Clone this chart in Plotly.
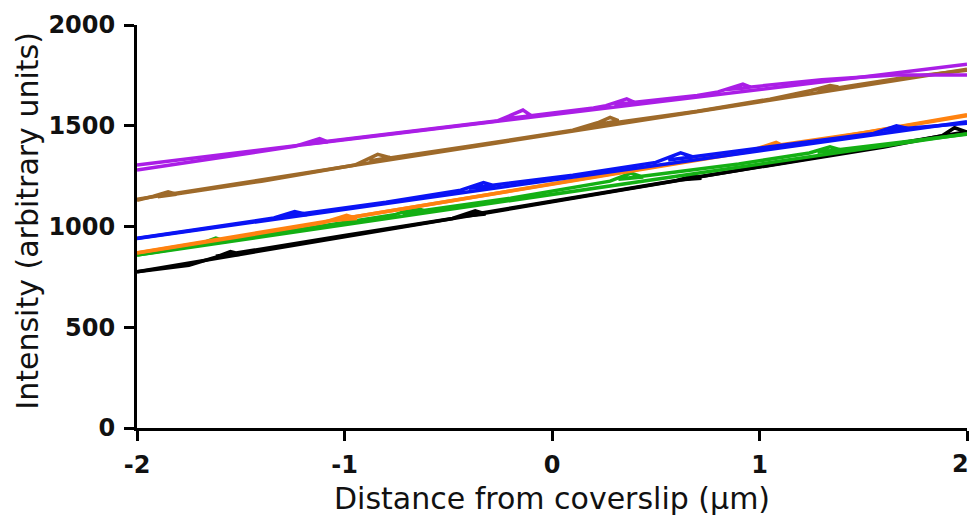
import plotly.graph_objects as go

# Tick labels
x_ticks = [-2, -1, 0, 1, 2]
x_tick_labels = ["-2", "-1", "0", "1", "2"]
y_ticks = [0, 500, 1000, 1500, 2000]
y_tick_labels = ["0", "500", "1000", "1500", "2000"]

# Linear fits, evaluated at the ends of the scan
fit_x = [-2, 2]
fit_black = [775, 1470]
fit_green = [858, 1460]
fit_orange = [870, 1550]
fit_blue = [940, 1520]
fit_brown = [1135, 1780]
fit_purple = [1305, 1805]

# Measured intensity profiles (z-stack positions, with small stage back-steps)
black_x = [-2.00, -1.75, -1.62, -1.55, -1.50, -1.62, -1.00, -0.48, -0.37, -0.32, -0.44,
           0.20, 0.60, 0.68, 0.72, 0.62, 1.20, 1.60, 1.88, 1.94, 2.00]
black_y = [776, 808, 848, 876, 862, 852, 955, 1040, 1078, 1062, 1050,
           1160, 1228, 1250, 1240, 1232, 1330, 1395, 1450, 1490, 1468]

green_x = [-2.00, -1.72, -1.62, -1.57, -1.68, -1.20, -0.76, -0.66, -0.60, -0.72, -0.20,
           0.28, 0.38, 0.44, 0.32, 0.90, 1.24, 1.34, 1.40, 1.28, 1.70, 2.00]
green_y = [858, 905, 942, 925, 912, 990, 1058, 1092, 1075, 1065, 1140,
           1225, 1265, 1245, 1235, 1310, 1365, 1395, 1378, 1368, 1420, 1458]

orange_x = [-2.00, -1.50, -1.10, -0.99, -0.94, -1.06, -0.50, 0.00, 0.50, 0.97, 1.08,
            1.12, 1.00, 1.50, 2.00]
orange_y = [868, 950, 1020, 1055, 1040, 1030, 1125, 1212, 1298, 1380, 1418,
            1398, 1390, 1465, 1555]

blue_x = [-2.00, -1.60, -1.34, -1.24, -1.18, -1.30, -0.80, -0.44, -0.33, -0.27, -0.40,
          0.10, 0.50, 0.62, 0.68, 0.56, 1.10, 1.55, 1.66, 1.72, 1.60, 2.00]
blue_y = [942, 1000, 1042, 1074, 1060, 1050, 1120, 1180, 1218, 1200, 1190,
          1255, 1318, 1365, 1345, 1330, 1400, 1462, 1500, 1485, 1478, 1512]

brown_x = [-2.00, -1.92, -1.85, -1.81, -1.90, -1.40, -0.95, -0.84, -0.78, -0.88, -0.40,
           0.10, 0.22, 0.28, 0.32, 0.18, 0.70, 1.05, 1.25, 1.34, 1.38, 1.28, 1.70, 2.00]
brown_y = [1130, 1150, 1172, 1160, 1148, 1225, 1305, 1358, 1342, 1325, 1398,
           1478, 1515, 1542, 1525, 1498, 1572, 1632, 1675, 1700, 1692, 1672, 1740, 1775]

purple_x = [-2.00, -1.65, -1.24, -1.12, -1.08, -1.20, -0.70, -0.45, -0.26, -0.14, -0.10,
            -0.22, 0.20, 0.26, 0.36, 0.40, 0.30, 0.70, 0.80, 0.92, 0.96, 0.84, 1.30,
            1.65, 2.00]
purple_y = [1280, 1335, 1398, 1436, 1420, 1408, 1468, 1498, 1525, 1578, 1550,
            1535, 1588, 1600, 1633, 1615, 1605, 1650, 1668, 1707, 1690, 1680, 1728,
            1752, 1752]

series = [
    ("black", "#000000", black_x, black_y, fit_black),
    ("green", "#14B014", green_x, green_y, fit_green),
    ("orange", "#FF8210", orange_x, orange_y, fit_orange),
    ("blue", "#0A14F5", blue_x, blue_y, fit_blue),
    ("brown", "#9E6A2A", brown_x, brown_y, fit_brown),
    ("purple", "#AA1EE6", purple_x, purple_y, fit_purple),
]

fig = go.Figure()
for name, color, xs, ys, fit in series:
    fig.add_trace(go.Scatter(x=fit_x, y=fit, mode="lines", name=name + " fit",
                             line=dict(color=color, width=3.5), showlegend=False,
                             hoverinfo="skip"))
    fig.add_trace(go.Scatter(x=xs, y=ys, mode="lines", name=name,
                             line=dict(color=color, width=3.5), showlegend=False))

tick_font = dict(family="DejaVu Sans", size=24, color="#111111", weight="bold")
title_font = dict(family="DejaVu Sans", size=30, color="#111111")

fig.update_layout(
    width=970, height=521,
    margin=dict(l=137, r=3, t=25, b=93),
    paper_bgcolor="white", plot_bgcolor="white",
    showlegend=False,
)
# The last x label sits against the right edge, so it is placed as a
# right-aligned annotation instead of a centred tick label.
fig.update_xaxes(
    range=[-2, 2], tickmode="array", tickvals=x_ticks,
    ticktext=x_tick_labels[:-1] + [""],
    showline=True, linecolor="black", linewidth=3, ticks="outside", ticklen=10,
    tickwidth=3, tickcolor="black", showgrid=False, zeroline=False,
    tickfont=tick_font, automargin=False, ticklabelstandoff=3,
)
fig.add_annotation(text=x_tick_labels[-1], xref="x", yref="paper",
                   x=x_ticks[-1], y=-0.0893, xanchor="right", yanchor="middle",
                   xshift=4, showarrow=False, font=tick_font)
fig.update_yaxes(
    range=[0, 2000], tickmode="array", tickvals=y_ticks, ticktext=y_tick_labels,
    showline=True, linecolor="black", linewidth=3, ticks="outside", ticklen=10,
    tickwidth=3, tickcolor="black", showgrid=False, zeroline=False,
    tickfont=tick_font, automargin=False, ticklabelstandoff=4,
)
fig.add_annotation(text="Distance from coverslip (µm)", xref="paper", yref="paper",
                   x=0.5, y=-0.175, xanchor="center", yanchor="middle",
                   showarrow=False, font=title_font)
fig.add_annotation(text="Intensity (arbitrary units)", xref="paper", yref="paper",
                   x=-0.1316, y=0.514, xanchor="center", yanchor="middle",
                   textangle=-90, showarrow=False, font=title_font)

fig.write_html("out.html")
